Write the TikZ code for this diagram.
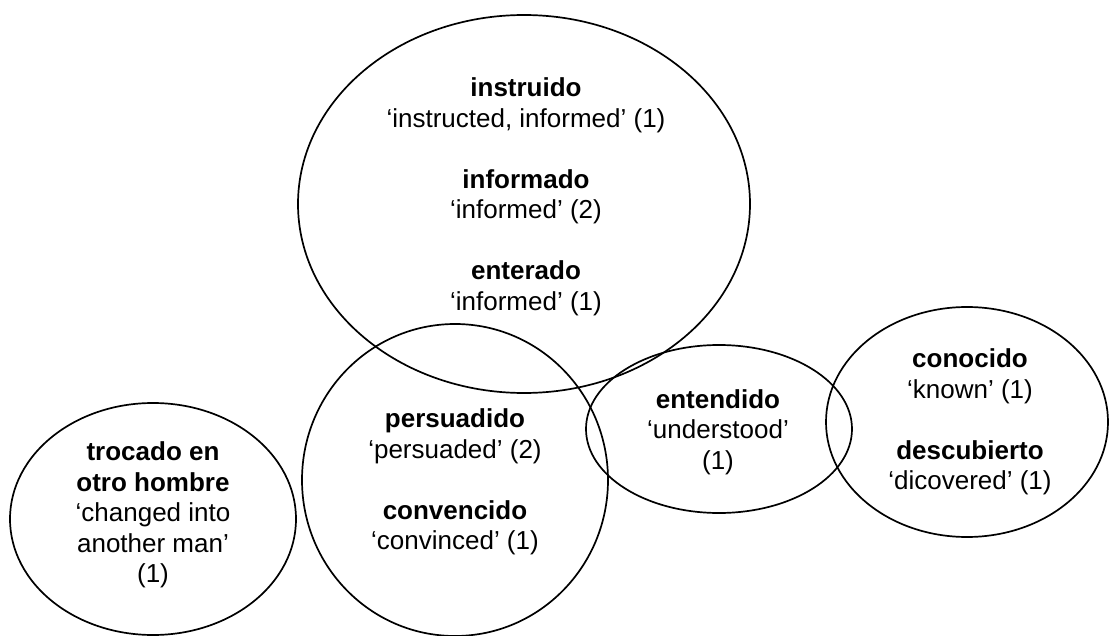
\documentclass[tikz,border=0pt]{standalone}
\usepackage{fontspec}
\setmainfont{Liberation Sans}
\usetikzlibrary{shapes.geometric}
\begin{document}
\begin{tikzpicture}[x=1pt,y=-1pt,
  blob/.style={draw, line width=1.7pt, ellipse, inner sep=0pt, outer sep=0pt},
  lbl/.style={align=center, font=\fontsize{26}{30.5}\selectfont, inner sep=0pt}]
\useasboundingbox (0,0) rectangle (1109,636);
\node[blob, minimum width=452pt, minimum height=378pt] (big) at (524,204) {};
\node[blob, minimum width=306pt, minimum height=312pt] (mid) at (455,480) {};
\node[blob, minimum width=266pt, minimum height=168pt] (ent) at (719,429) {};
\node[blob, minimum width=282pt, minimum height=230pt] (con) at (967,422) {};
\node[blob, minimum width=286pt, minimum height=232pt] (tro) at (153,519) {};
\node[lbl] (tbig) at (526,197) {\textbf{instruido}\\‘instructed, informed’ (1)\\[30.5pt]\textbf{informado}\\‘informed’ (2)\\[30.5pt]\textbf{enterado}\\‘informed’ (1)};
\node[lbl] (tmid) at (455,482) {\textbf{persuadido}\\‘persuaded’ (2)\\[30.5pt]\textbf{convencido}\\‘convinced’ (1)};
\node[lbl] (tent) at (718,432) {\textbf{entendido}\\‘understood’\\(1)};
\node[lbl] (tcon) at (970,422) {\textbf{conocido}\\‘known’ (1)\\[30.5pt]\textbf{descubierto}\\‘dicovered’ (1)};
\node[lbl] (ttro) at (153,515) {\textbf{trocado en}\\\textbf{otro hombre}\\‘changed into\\another man’\\(1)};
\end{tikzpicture}
\end{document}
